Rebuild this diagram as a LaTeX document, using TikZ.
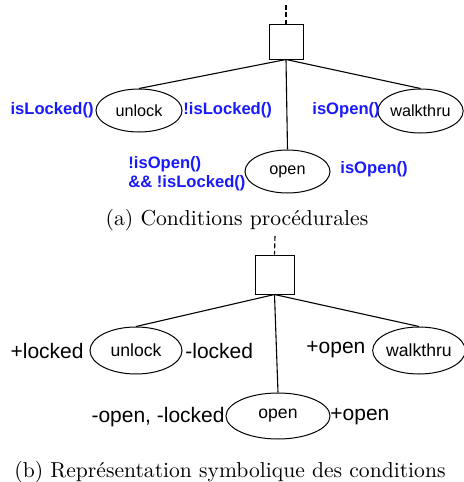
\documentclass[tikz,border=0pt]{standalone}
\usepackage{fontspec}
\newfontfamily\arialf{Liberation Sans}
\usetikzlibrary{shapes.geometric}
\definecolor{condblue}{RGB}{25,25,255}
\tikzset{
  act/.style={draw, ellipse, inner sep=0pt, line width=0.5pt},
  actA/.style={act, font=\arialf\fontsize{8.1}{9.5}\selectfont},
  actB/.style={act, font=\arialf\fontsize{8.8}{10}\selectfont},
  seqbox/.style={draw, rectangle, inner sep=0pt, line width=0.5pt},
  link/.style={line width=0.55pt},
  dashlink/.style={line width=0.55pt, dash pattern=on 2.5pt off 1.2pt},
  cond/.style={inner sep=0pt, text=condblue, font=\arialf\bfseries\fontsize{8.3}{9.5}\selectfont},
  sym/.style={inner sep=0pt, font=\arialf\fontsize{10.5}{12}\selectfont},
  capt/.style={inner sep=0pt, font=\fontsize{10.8}{13}\selectfont}
}
\begin{document}
\begin{tikzpicture}[x=0.5pt, y=-0.5pt]
\useasboundingbox (0,0) rectangle (463,482);
% ---- (a)
\node[seqbox, minimum width=17pt, minimum height=17.5pt] (boxA) at (286,41.5) {};
\coordinate (topA) at (286,5);
\node[actA, minimum width=43pt, minimum height=21.5pt] (unlockA) at (139,110.5) {unlock};
\node[actA, minimum width=42.5pt, minimum height=21.5pt] (openA) at (287.5,171.5) {open};
\node[actA, minimum width=42.5pt, minimum height=22pt] (walkA) at (420.5,111) {walkthru};
\draw[dashlink] (topA) -- (boxA.north);
\draw[link] (boxA.south) -- (unlockA.north);
\draw[link] (boxA.south) -- (openA.north);
\draw[link] (boxA.south) -- (walkA.north);
\node[cond, anchor=east] (cA1) at (94,110) {isLocked()};
\node[cond, anchor=west] (cA2) at (183,110) {!isLocked()};
\node[cond, anchor=west] (cA3) at (312,110) {isOpen()};
\node[cond, anchor=west, align=left] (cA4) at (128,173.5) {!isOpen()\\\&\& !isLocked()};
\node[cond, anchor=west] (cA5) at (340,169.5) {isOpen()};
\node[capt] (captA) at (237,220) {(a) Conditions procédurales};
% ---- (b)
\node[seqbox, minimum width=19.5pt, minimum height=19.5pt] (boxB) at (274.5,274.5) {};
\coordinate (topB) at (275,236);
\node[actB, minimum width=46pt, minimum height=23.5pt] (unlockB) at (136,350.5) {unlock};
\node[actB, minimum width=52pt, minimum height=23pt] (openB) at (278,416) {open};
\node[actB, minimum width=44pt, minimum height=23.5pt] (walkB) at (419,350.5) {walkthru};
\draw[dashlink] (topB) -- (boxB.north);
\draw[link] (boxB.south) -- (unlockB.north);
\draw[link] (boxB.south) -- (openB.north);
\draw[link] (boxB.south) -- (walkB.north);
\node[sym, anchor=east] (sB1) at (84,351) {+locked};
\node[sym, anchor=west] (sB2) at (185,351) {-locked};
\node[sym, anchor=west] (sB3) at (306,350) {+open};
\node[sym, anchor=east] (sB4) at (225,417) {-open, -locked};
\node[sym, anchor=west] (sB5) at (330,417) {+open};
\node[capt] (captB) at (230,472) {(b) Représentation symbolique des conditions};
\end{tikzpicture}
\end{document}
